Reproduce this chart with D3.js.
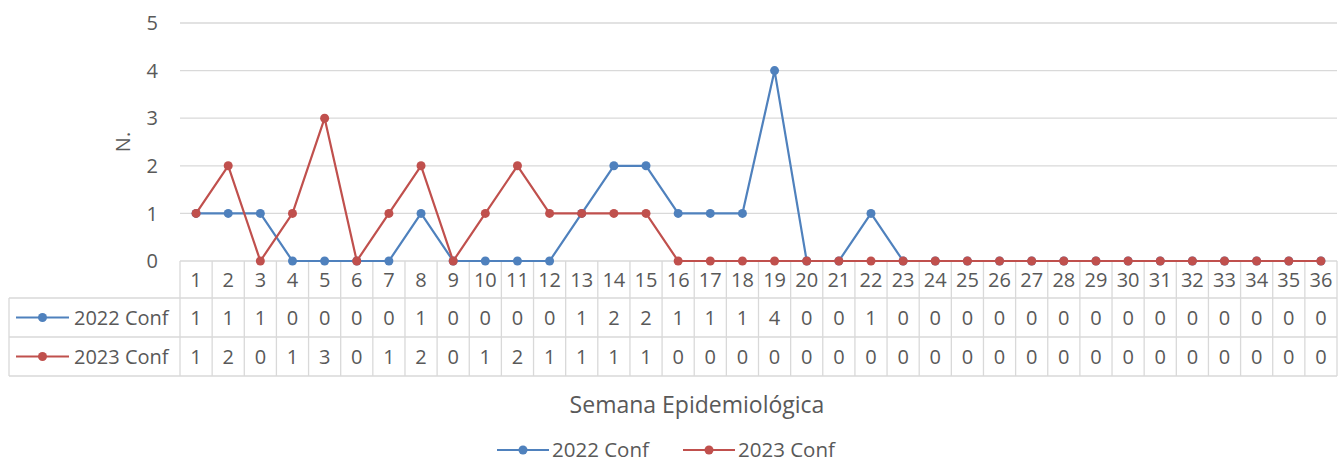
<!DOCTYPE html>
<html lang="en">
<head>
<meta charset="UTF-8">
<title>Semana Epidemiológica</title>
<script src="https://cdnjs.cloudflare.com/ajax/libs/d3/7.8.5/d3.min.js"></script>
<style>
  body { margin: 0; background: #fff; }
  text { font-family: "Open Sans", "Noto Sans", sans-serif; fill: #595959; }
</style>
</head>
<body>
<script>
  const weeks = d3.range(1, 37).map(String);
  const conf2022 = [1,1,1,0,0,0,0,1,0,0,0,0,1,2,2,1,1,1,4,0,0,1,0,0,0,0,0,0,0,0,0,0,0,0,0,0];
  const conf2023 = [1,2,0,1,3,0,1,2,0,1,2,1,1,1,1,0,0,0,0,0,0,0,0,0,0,0,0,0,0,0,0,0,0,0,0,0];
  const seriesNames = ["2022 Conf", "2023 Conf"];
  const seriesColors = ["#4F81BD", "#C0504D"];
  const yTicks = [0, 1, 2, 3, 4, 5];

  const width = 1338, height = 462;
  const plot = {left: 180, right: 1337, top: 23, bottom: 261};
  const rowH = [37, 39, 39];   // header row + 2 series rows
  const tableLeft = 9;
  const fs = 20;

  const svg = d3.select("body").append("svg")
      .attr("width", width).attr("height", height);

  const x = d3.scaleBand().domain(weeks).range([plot.left, plot.right]);
  const y = d3.scaleLinear().domain([0, 5]).range([plot.bottom, plot.top]);

  // gridlines
  svg.append("g").selectAll("line").data(yTicks).join("line")
      .attr("x1", plot.left).attr("x2", plot.right)
      .attr("y1", d => y(d)).attr("y2", d => y(d))
      .attr("stroke", "#d9d9d9").attr("stroke-width", 1.3);

  // y tick labels
  svg.append("g").selectAll("text").data(yTicks).join("text")
      .attr("x", 158).attr("y", d => y(d)).attr("dy", "0.36em")
      .attr("text-anchor", "end").attr("font-size", fs).text(d => d);

  // y title
  svg.append("text")
      .attr("transform", `translate(130,${(plot.top + plot.bottom) / 2}) rotate(-90)`)
      .attr("text-anchor", "middle").attr("font-size", fs).text("N.");

  // data table
  const rowsY = [plot.bottom];
  rowH.forEach((h, i) => rowsY.push(rowsY[i] + h));
  const tbl = svg.append("g").attr("stroke", "#d9d9d9").attr("stroke-width", 1.3);
  [1, 2, 3].forEach(r => {
    tbl.append("line").attr("x1", tableLeft).attr("x2", plot.right)
        .attr("y1", rowsY[r]).attr("y2", rowsY[r]);
  });
  const vx = weeks.map(w => x(w)).concat([plot.right]);
  tbl.selectAll("line.v").data(vx).join("line").attr("class", "v")
      .attr("x1", d => d).attr("x2", d => d)
      .attr("y1", rowsY[0]).attr("y2", rowsY[3]);
  tbl.append("line").attr("x1", tableLeft).attr("x2", tableLeft)
      .attr("y1", rowsY[1]).attr("y2", rowsY[3]);

  // header labels
  svg.append("g").selectAll("text").data(weeks).join("text")
      .attr("x", d => x(d) + x.bandwidth() / 2)
      .attr("y", (rowsY[0] + rowsY[1]) / 2).attr("dy", "0.36em")
      .attr("text-anchor", "middle").attr("font-size", fs).text(d => d);

  const allSeries = [conf2022, conf2023];
  allSeries.forEach((vals, i) => {
    const cy = (rowsY[i + 1] + rowsY[i + 2]) / 2;
    svg.append("g").selectAll("text").data(vals).join("text")
        .attr("x", (d, j) => x(weeks[j]) + x.bandwidth() / 2)
        .attr("y", cy).attr("dy", "0.36em")
        .attr("text-anchor", "middle").attr("font-size", fs).text(d => d);
    // legend key inside table
    const k = svg.append("g").attr("transform", `translate(16,${cy})`);
    k.append("line").attr("x1", 0).attr("x2", 53).attr("stroke", seriesColors[i]).attr("stroke-width", 2.2);
    k.append("circle").attr("cx", 26.5).attr("r", 4.5).attr("fill", seriesColors[i]);
    svg.append("text").attr("x", 74).attr("y", cy).attr("dy", "0.36em")
        .attr("font-size", fs).text(seriesNames[i]);
  });

  // lines
  const line = d3.line().x((d, j) => x(weeks[j]) + x.bandwidth() / 2).y(d => y(d));
  allSeries.forEach((vals, i) => {
    svg.append("path").datum(vals).attr("d", line)
        .attr("fill", "none").attr("stroke", seriesColors[i]).attr("stroke-width", 2.2)
        .attr("stroke-linejoin", "round");
    svg.append("g").selectAll("circle").data(vals).join("circle")
        .attr("cx", (d, j) => x(weeks[j]) + x.bandwidth() / 2)
        .attr("cy", d => y(d)).attr("r", 4.5).attr("fill", seriesColors[i]);
  });

  // x title
  svg.append("text").attr("x", 697).attr("y", 405).attr("dy", "0.36em")
      .attr("text-anchor", "middle").attr("font-size", 23).text("Semana Epidemiológica");

  // bottom legend
  const lgX = [497, 683];
  seriesNames.forEach((name, i) => {
    const g = svg.append("g").attr("transform", `translate(${lgX[i]},450)`);
    g.append("line").attr("x1", 0).attr("x2", 52).attr("stroke", seriesColors[i]).attr("stroke-width", 2.2);
    g.append("circle").attr("cx", 26).attr("r", 4.5).attr("fill", seriesColors[i]);
    g.append("text").attr("x", 55).attr("dy", "0.34em").attr("font-size", 20.5).text(name);
  });
</script>
</body>
</html>
